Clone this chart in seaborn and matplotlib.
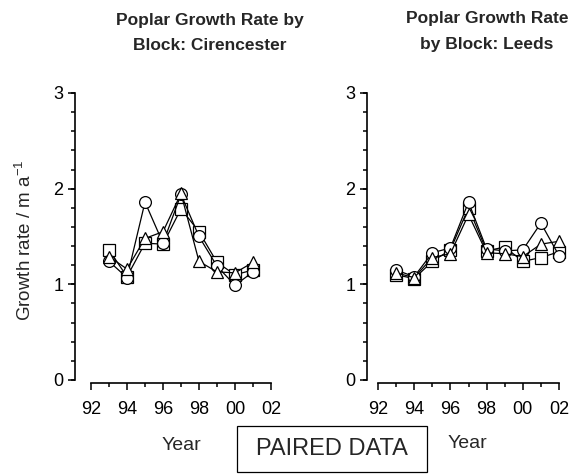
import matplotlib
matplotlib.use("Agg")
import matplotlib.pyplot as plt
import matplotlib.ticker as mticker
from matplotlib.patches import Rectangle
import numpy as np
import pandas as pd
import seaborn as sns

# Growth rate per block (m a^-1), years 1993 onward
years_cir = [93, 94, 95, 96, 97, 98, 99, 100, 101]
cir_square = [1.36, 1.08, 1.43, 1.42, 1.79, 1.55, 1.23, 1.10, 1.15]
cir_circle = [1.24, 1.07, 1.86, 1.43, 1.94, 1.50, 1.19, 0.99, 1.13]
cir_triangle = [1.29, 1.16, 1.48, 1.55, 1.95, 1.24, 1.13, 1.12, 1.23]

years_lee = [93, 94, 95, 96, 97, 98, 99, 100, 101, 102]
lee_square = [1.10, 1.06, 1.24, 1.36, 1.80, 1.35, 1.39, 1.24, 1.28, 1.34]
lee_circle = [1.15, 1.08, 1.33, 1.38, 1.86, 1.37, 1.35, 1.36, 1.64, 1.30]
lee_triangle = [1.12, 1.07, 1.28, 1.32, 1.73, 1.33, 1.32, 1.29, 1.42, 1.45]

blocks = ["A", "B", "C"]
block_markers = {"A": "s", "B": "o", "C": "^"}

x_ticks = [92, 94, 96, 98, 100, 102]
x_tick_labels = ["92", "94", "96", "98", "00", "02"]
y_ticks = [0, 1, 2, 3]

titles_cir = ["Poplar Growth Rate by", "Block: Cirencester"]
titles_lee = ["Poplar Growth Rate", "by Block: Leeds"]


def long_frame(years, series):
    rows = []
    for name, vals in zip(blocks, series):
        for yr, v in zip(years, vals):
            rows.append({"year": yr, "rate": v, "block": name})
    return pd.DataFrame(rows)


df_cir = long_frame(years_cir, [cir_square, cir_circle, cir_triangle])
df_lee = long_frame(years_lee, [lee_square, lee_circle, lee_triangle])

sns.set_theme(style="ticks")
plt.rcParams["font.family"] = ["Liberation Sans", "DejaVu Sans"]

W, H = 577, 474
fig = plt.figure(figsize=(W / 100, H / 100), dpi=100)


def px_axes(x0, x1, y_top, y_bot):
    return fig.add_axes([x0 / W, 1 - y_bot / H, (x1 - x0) / W, (y_bot - y_top) / H])


ax1 = px_axes(75, 271, 93, 380)
ax2 = px_axes(367, 559, 93, 380)


def draw(ax, df, xmin):
    for name in blocks:
        sub = df[df["block"] == name]
        sns.lineplot(data=sub, x="year", y="rate", ax=ax, color="black",
                     marker=block_markers[name], markersize=8.5,
                     markerfacecolor="white", markeredgecolor="black",
                     markeredgewidth=0.9, linewidth=0.9, legend=False,
                     clip_on=False, zorder=3)
    ax.set_xlim(xmin, 102)
    ax.set_ylim(0, 3)
    for s in ["top", "right"]:
        ax.spines[s].set_visible(False)
    ax.spines["left"].set_bounds(0, 3)
    ax.spines["bottom"].set_bounds(92, 102)
    ax.spines["bottom"].set_position(("outward", 2))
    for s in ["left", "bottom"]:
        ax.spines[s].set_linewidth(1.2)
        ax.spines[s].set_color("black")
    ax.set_xticks(x_ticks)
    ax.set_xticklabels(x_tick_labels)
    ax.xaxis.set_minor_locator(mticker.FixedLocator(np.arange(93, 102, 2)))
    ax.set_yticks(y_ticks)
    ax.yaxis.set_minor_locator(mticker.FixedLocator(np.arange(0, 3.01, 0.2)))
    ax.yaxis.remove_overlapping_locs = False
    ax.tick_params(axis="both", which="major", direction="out", length=5,
                   width=1.1, color="black", labelsize=13, labelcolor="black")
    ax.tick_params(axis="x", which="major", pad=8)
    ax.tick_params(axis="y", which="major", pad=3.5)
    ax.tick_params(axis="both", which="minor", direction="out", length=2.8,
                   width=1.1, color="black")
    ax.set_xlabel("")
    ax.set_ylabel("")
    ax.set_facecolor("white")


draw(ax1, df_cir, 92 - 16 / 18.0)
draw(ax2, df_lee, 92 - 11 / 18.1)

fig.text(210 / W, 1 - 20 / H, titles_cir[0], ha="center", va="center",
         fontsize=12.5, fontweight="bold")
fig.text(210 / W, 1 - 45 / H, titles_cir[1], ha="center", va="center",
         fontsize=12.5, fontweight="bold")
fig.text(487 / W, 1 - 19 / H, titles_lee[0], ha="center", va="center",
         fontsize=12.5, fontweight="bold")
fig.text(487 / W, 1 - 44 / H, titles_lee[1], ha="center", va="center",
         fontsize=12.5, fontweight="bold")

fig.text(25 / W, 1 - 240 / H, "Growth rate / m a$^{\\mathregular{-1}}$",
         rotation=90, ha="center", va="center", fontsize=13.5)
fig.text(181 / W, 1 - 445 / H, "Year", ha="center", va="center", fontsize=14)
fig.text(467 / W, 1 - 443 / H, "Year", ha="center", va="center", fontsize=14)

# framed caption between the two panels
fig.patches.append(Rectangle((237 / W, 1 - 472 / H), (427 - 237) / W, (472 - 426) / H,
                             transform=fig.transFigure, fill=False,
                             edgecolor="black", linewidth=0.9))
fig.text(332 / W, 1 - 449 / H, "PAIRED DATA", ha="center", va="center",
         fontsize=17)

fig.savefig("out.png", dpi=100, facecolor="white")
